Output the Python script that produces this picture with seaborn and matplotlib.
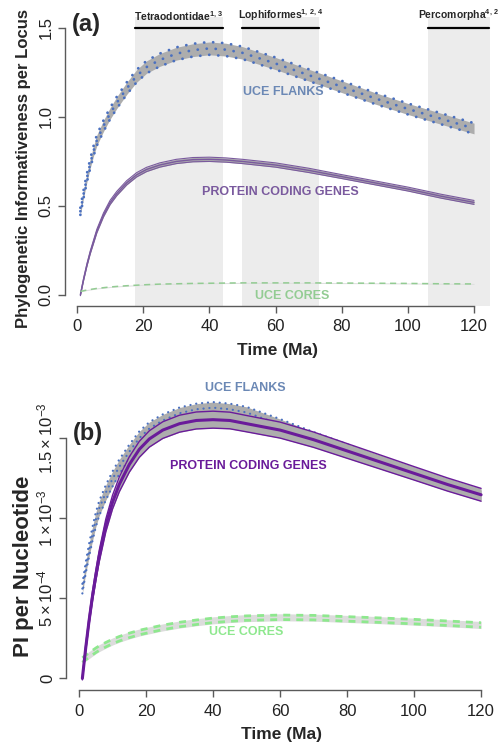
import numpy as np
import pandas as pd
import matplotlib
matplotlib.use("Agg")
import matplotlib.pyplot as plt
import seaborn as sns

sns.set_theme(style="ticks")
plt.rcParams["font.family"] = ["Liberation Sans", "DejaVu Sans"]
plt.rcParams["mathtext.fontset"] = "custom"
plt.rcParams["mathtext.rm"] = "Liberation Sans"
plt.rcParams["mathtext.it"] = "Liberation Sans:italic"
plt.rcParams["mathtext.bf"] = "Liberation Sans:bold"

# ---- data ---------------------------------------------------------------
time_ma = [1, 2, 3, 4, 5, 6, 8, 10, 12, 15, 18, 21, 25, 30, 35, 40, 45, 50,
           60, 70, 80, 90, 100, 110, 120]

# (a) phylogenetic informativeness per locus
flanks_locus = [0.47, 0.57, 0.66, 0.74, 0.81, 0.87, 0.95, 1.02, 1.08, 1.16,
                1.23, 1.28, 1.32, 1.355, 1.375, 1.385, 1.378, 1.36,
                1.30, 1.235, 1.17, 1.105, 1.045, 0.99, 0.935]
flanks_locus_hw = [0.02, 0.022, 0.024, 0.026, 0.028, 0.03, 0.031, 0.032, 0.033,
                   0.034, 0.035, 0.035, 0.036, 0.036, 0.036, 0.036, 0.036, 0.035,
                   0.034, 0.033, 0.033, 0.032, 0.031, 0.031, 0.03]
protein_locus = [0.0, 0.09, 0.17, 0.24, 0.30, 0.36, 0.45, 0.52, 0.57, 0.63,
                 0.675, 0.705, 0.73, 0.75, 0.76, 0.762, 0.758, 0.75,
                 0.73, 0.70, 0.665, 0.63, 0.595, 0.555, 0.52]
protein_locus_hw = [0.004, 0.006, 0.007, 0.008, 0.009, 0.01, 0.011, 0.012, 0.012,
                    0.012, 0.012, 0.012, 0.012, 0.012, 0.012, 0.012, 0.012, 0.012,
                    0.012, 0.012, 0.011, 0.011, 0.011, 0.011, 0.011]
cores_locus = [0.02, 0.024, 0.028, 0.031, 0.034, 0.037, 0.041, 0.045, 0.048,
               0.052, 0.055, 0.058, 0.061, 0.063, 0.065, 0.066, 0.067, 0.068,
               0.068, 0.068, 0.067, 0.066, 0.065, 0.063, 0.062]

# (b) phylogenetic informativeness per nucleotide (x 1e-3)
flanks_nt = [0.56, 0.69, 0.80, 0.90, 0.99, 1.06, 1.16, 1.245, 1.32, 1.415,
             1.50, 1.56, 1.61, 1.655, 1.68, 1.69, 1.68, 1.66,
             1.585, 1.505, 1.43, 1.35, 1.275, 1.21, 1.145]
flanks_nt_hw = [0.03, 0.035, 0.04, 0.043, 0.045, 0.046, 0.047, 0.047, 0.046,
                0.044, 0.042, 0.04, 0.038, 0.036, 0.035, 0.035, 0.035, 0.035,
                0.034, 0.033, 0.032, 0.031, 0.03, 0.03, 0.03]
protein_nt = [0.0, 0.19, 0.36, 0.51, 0.64, 0.76, 0.955, 1.10, 1.21, 1.335,
              1.43, 1.495, 1.55, 1.59, 1.61, 1.615, 1.61, 1.59,
              1.55, 1.49, 1.42, 1.35, 1.28, 1.21, 1.146]
protein_nt_hw = [0.01, 0.02, 0.025, 0.03, 0.033, 0.036, 0.04, 0.043, 0.046,
                 0.048, 0.05, 0.051, 0.052, 0.053, 0.053, 0.053, 0.052, 0.051,
                 0.05, 0.048, 0.046, 0.044, 0.042, 0.041, 0.04]
cores_nt = [0.114, 0.130, 0.145, 0.160, 0.175, 0.188, 0.210, 0.230, 0.247,
            0.268, 0.286, 0.300, 0.318, 0.336, 0.350, 0.362, 0.370, 0.376,
            0.381, 0.379, 0.371, 0.363, 0.354, 0.344, 0.333]
cores_nt_hw = 0.022

# clade age intervals (Ma) shaded in panel (a)
clade_names = ["Tetraodontidae", "Lophiformes", "Percomorpha"]
clade_refs = ["1,\\,3", "1,\\,2,\\,4", "4,\\,2"]
clade_start = [17.5, 50, 106]
clade_end = [44, 73, 125]

x_ticks = [0, 20, 40, 60, 80, 100, 120]
ya_ticks = [0.0, 0.5, 1.0, 1.5]
ya_ticklabels = ["0.0", "0.5", "1.0", "1.5"]
yb_ticks = [0, 0.5e-3, 1.0e-3, 1.5e-3]
yb_ticklabels = ["0", r"$5\times10^{-4}$", r"$1\times10^{-3}$", r"$1.5\times10^{-3}$"]

# ---- styling ------------------------------------------------------------
FLANK_BLUE = "#4a70c0"
FLANK_TEXT = "#6b88b5"
BAND_GREY = "#adadad"
PURPLE_A = "#7a5a9e"
PURPLE_B = "#6a1b9a"
GREEN_A = "#93cc93"
GREEN_B = "#8ee88e"
AXIS_GREY = "#5a5a5a"
DOTS_A = (0, (0.05, 3.2))
DOTS_B = (0, (0.05, 2.6))

x = np.array(time_ma, dtype=float)

fig = plt.figure(figsize=(4.99, 7.43), dpi=100)
ax_a = fig.add_axes([0.1295, 0.5886, 0.852, 0.3882])
ax_b = fig.add_axes([0.1331, 0.0713, 0.863, 0.4253])


def style_axes(ax, yticks, yticklabels, ybounds):
    sns.despine(ax=ax)
    ax.set_xlim(-3.76, 124.76)
    ax.spines["left"].set_bounds(*ybounds)
    ax.spines["bottom"].set_bounds(0, 120)
    for s in ("left", "bottom"):
        ax.spines[s].set_color(AXIS_GREY)
        ax.spines[s].set_linewidth(1.0)
    ax.set_xticks(x_ticks)
    ax.set_xticklabels([str(t) for t in x_ticks])
    ax.set_yticks(yticks)
    ax.set_yticklabels(yticklabels, rotation=90, va="center")
    ax.tick_params(axis="both", direction="out", length=4.8, width=1.0,
                   color=AXIS_GREY, labelsize=12, labelcolor="#222222", pad=3)
    ax.tick_params(axis="x", pad=5)
    ax.set_xlabel("Time (Ma)", fontsize=12.5, fontweight="bold", labelpad=6)
    ax.grid(False)
    ax.set_facecolor("none")


def band(ax, center, hw, fill, z):
    c = np.asarray(center, dtype=float)
    h = np.asarray(hw, dtype=float) if np.ndim(hw) else np.full_like(c, hw)
    ax.fill_between(x, c - h, c + h, color=fill, lw=0, zorder=z)
    return c - h, c + h


# ---- panel (a) ----------------------------------------------------------
ax = ax_a
for s0, s1 in zip(clade_start, clade_end):
    ax.axvspan(s0, s1, color="#ececec", lw=0, zorder=0)
for name, ref, s0, s1 in zip(clade_names, clade_refs, clade_start, clade_end):
    right = min(s1, 124.5)
    ax.plot([s0, right], [1.5, 1.5], color="black", lw=1.6,
            clip_on=False, zorder=5)
    ax.text((s0 + right) / 2, 1.528, name + r"$^{\mathbf{" + ref + "}}$",
            ha="center", va="bottom", fontsize=7.5, fontweight="bold",
            clip_on=False)

lo, hi = band(ax, flanks_locus, flanks_locus_hw, BAND_GREY, 2)
for yy in (lo, hi, flanks_locus):
    sns.lineplot(x=x, y=yy, ax=ax, color=FLANK_BLUE, lw=2.0,
                 linestyle=DOTS_A, dash_capstyle="round", zorder=3)

lo, hi = band(ax, protein_locus, protein_locus_hw, BAND_GREY, 2)
for yy, lw in ((lo, 0.8), (hi, 0.8), (protein_locus, 1.0)):
    sns.lineplot(x=x, y=yy, ax=ax, color=PURPLE_A, lw=lw, zorder=3)

band(ax, cores_locus, 0.003, "#e0e0e0", 2)
sns.lineplot(x=x, y=cores_locus, ax=ax, color=GREEN_A, lw=1.1,
             linestyle=(0, (4, 3)), zorder=3)

ax.set_ylim(-0.06, 1.56)
style_axes(ax, ya_ticks, ya_ticklabels, (0, 1.5))
ax.set_ylabel("Phylogenetic Informativeness per Locus", fontsize=12,
              fontweight="bold")
ax.yaxis.set_label_coords(-0.079, 0.475)

ax.text(2.7, 1.52, "(a)", fontsize=17, fontweight="bold", ha="center",
        va="center", clip_on=False)
ax.text(62.5, 1.14, "UCE FLANKS", color=FLANK_TEXT, fontsize=9,
        fontweight="bold", ha="center", va="center")
ax.text(61.5, 0.58, "PROTEIN CODING GENES", color=PURPLE_A, fontsize=9,
        fontweight="bold", ha="center", va="center")
ax.text(65, -0.005, "UCE CORES", color=GREEN_A, fontsize=9,
        fontweight="bold", ha="center", va="center")

# ---- panel (b) ----------------------------------------------------------
ax = ax_b
scale = 1e-3
lo, hi = band(ax, np.array(flanks_nt) * scale, np.array(flanks_nt_hw) * scale,
              BAND_GREY, 2)
for yy in (lo, hi, np.array(flanks_nt) * scale):
    sns.lineplot(x=x, y=yy, ax=ax, color=FLANK_BLUE, lw=1.6,
                 linestyle=DOTS_B, dash_capstyle="round", zorder=3)

lo, hi = band(ax, np.array(protein_nt) * scale, np.array(protein_nt_hw) * scale,
              BAND_GREY, 3.5)
for yy, lw in ((lo, 1.0), (hi, 1.0), (np.array(protein_nt) * scale, 2.2)):
    sns.lineplot(x=x, y=yy, ax=ax, color=PURPLE_B, lw=lw, zorder=4)

lo, hi = band(ax, np.array(cores_nt) * scale, cores_nt_hw * scale, "#dcdcdc", 2)
for yy in (lo + 0.008e-3, hi - 0.008e-3):
    sns.lineplot(x=x, y=yy, ax=ax, color=GREEN_B, lw=2.0,
                 linestyle=(0, (2.5, 2.2)), zorder=3)

ax.set_ylim(-0.073e-3, 1.90e-3)
style_axes(ax, yb_ticks, yb_ticklabels, (0, 1.5e-3))
ax.set_ylabel("PI per Nucleotide", fontsize=16, fontweight="bold")
ax.yaxis.set_label_coords(-0.075, 0.39)

ax.text(2.7, 1.53e-3, "(b)", fontsize=17, fontweight="bold", ha="center",
        va="center")
ax.text(49.5, 1.81e-3, "UCE FLANKS", color=FLANK_TEXT, fontsize=9,
        fontweight="bold", ha="center", va="center", clip_on=False)
ax.text(50.5, 1.325e-3, "PROTEIN CODING GENES", color=PURPLE_B, fontsize=9,
        fontweight="bold", ha="center", va="center")
ax.text(50, 0.29e-3, "UCE CORES", color=GREEN_B, fontsize=9,
        fontweight="bold", ha="center", va="center")

fig.savefig("out.png", dpi=100)
